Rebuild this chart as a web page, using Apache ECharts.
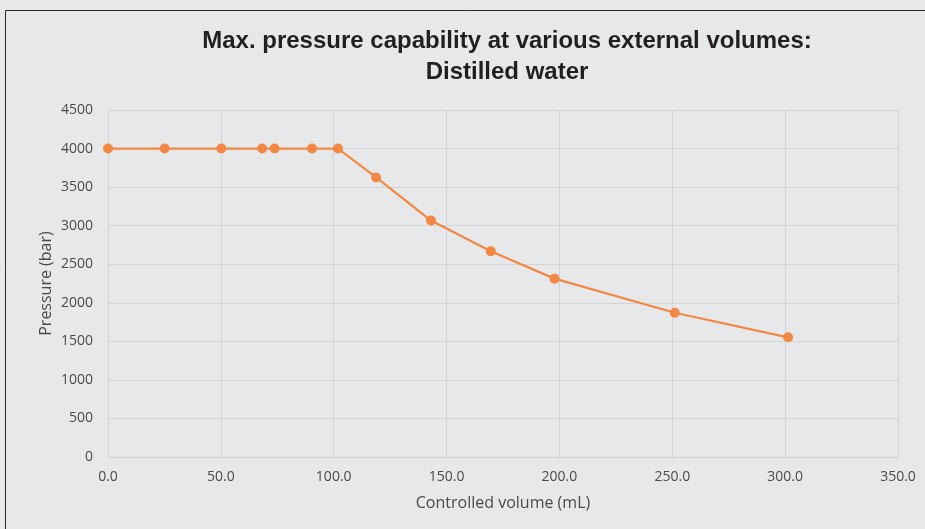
<!DOCTYPE html>
<html>
<head>
<meta charset="utf-8">
<script src="https://cdn.jsdelivr.net/npm/echarts@6/dist/echarts.min.js"></script>
<style>
html,body{margin:0;padding:0;background:#e7e8ea;}
#c{width:925px;height:529px;}
</style>
</head>
<body>
<div id="c"></div>
<script>
const titleLines = ['Max. pressure capability at various external volumes:', 'Distilled water'];
const xName = 'Controlled volume (mL)';
const yName = 'Pressure (bar)';
const volume = [0, 25.1, 50.2, 68.3, 73.8, 90.4, 101.9, 118.8, 143.1, 169.6, 197.8, 251.1, 301.3];
const pressure = [4000, 4000, 4000, 4000, 4000, 4000, 4000, 3625, 3066, 2669, 2313, 1871, 1552];

const chart = echarts.init(document.getElementById('c'), null, {renderer: 'canvas'});
chart.setOption({
  backgroundColor: '#e7e8ea',
  animation: false,
  graphic: [{
    type: 'rect', silent: true,
    shape: {x: 5.5, y: 10.5, width: 940, height: 540},
    style: {fill: null, stroke: '#2a2a2a', lineWidth: 1}
  }],
  title: {
    text: titleLines.join('\n'),
    left: 502, top: 21, textAlign: 'center',
    textStyle: {fontFamily: 'Liberation Sans, Arial', fontWeight: 'bold', fontSize: 24, color: '#231f20', lineHeight: 31}
  },
  grid: {left: 108, right: 27, top: 110, bottom: 72},
  xAxis: {
    type: 'value', min: 0, max: 350, interval: 50,
    name: xName, nameLocation: 'middle', nameGap: 38, nameMoveOverlap: false,
    nameTextStyle: {fontFamily: 'Open Sans', fontSize: 16, color: '#4a4a4a'},
    axisLine: {show: true, lineStyle: {color: '#d0d0d0'}},
    axisTick: {show: false},
    axisLabel: {margin: 13, formatter: v => v.toFixed(1), fontFamily: 'Open Sans', fontSize: 14, color: '#4a4a4a'},
    splitLine: {show: true, lineStyle: {color: '#d3d4d6'}}
  },
  yAxis: {
    type: 'value', min: 0, max: 4500, interval: 500,
    name: yName, nameLocation: 'middle', nameGap: 54, nameMoveOverlap: false,
    nameTextStyle: {fontFamily: 'Open Sans', fontSize: 16, color: '#4a4a4a'},
    axisLine: {show: false},
    axisTick: {show: false},
    axisLabel: {margin: 15, formatter: v => String(v), fontFamily: 'Open Sans', fontSize: 14, color: '#4a4a4a'},
    splitLine: {show: true, lineStyle: {color: '#d3d4d6'}}
  },
  series: [{
    type: 'line',
    data: volume.map((v, i) => [v, pressure[i]]),
    symbol: 'circle', symbolSize: 10,
    lineStyle: {color: '#f38844', width: 2.25},
    itemStyle: {color: '#f38844'}
  }]
});
</script>
</body>
</html>
